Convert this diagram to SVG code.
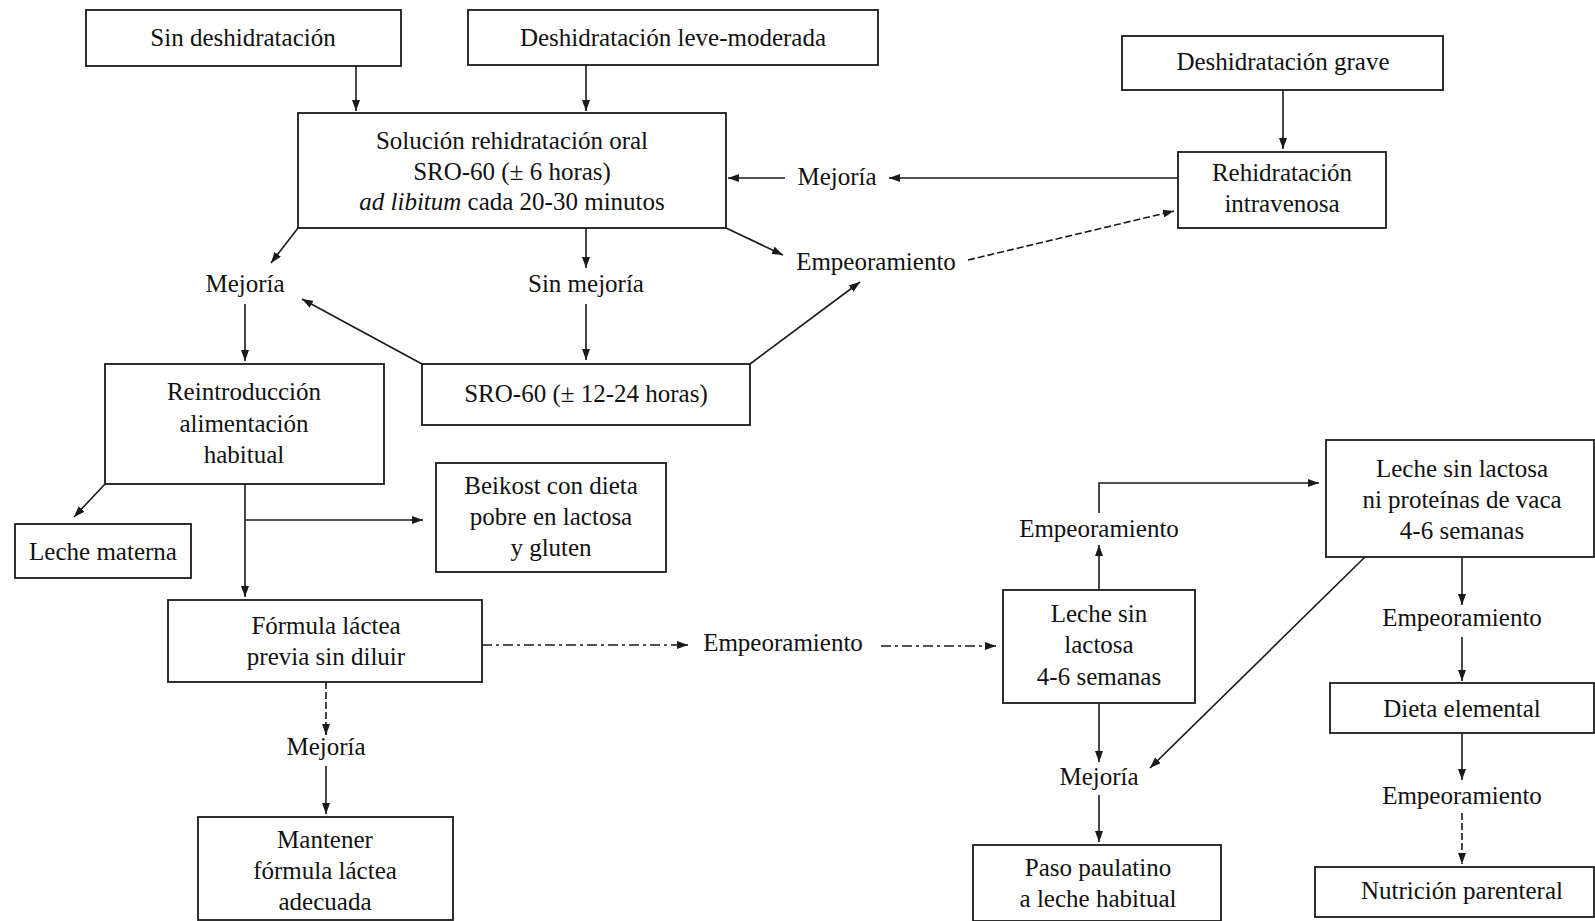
<svg xmlns="http://www.w3.org/2000/svg" width="1595" height="921" viewBox="0 0 1595 921">
<style>
.box{fill:#fff;stroke:#1a1a1a;stroke-width:1.8}
.t{font-family:"Liberation Serif","Times New Roman",serif;font-size:25px;fill:#111;text-anchor:middle}
.c{fill:none;stroke:#1a1a1a;stroke-width:1.6}
.dash{stroke-dasharray:10 4 3 4}
.dsh{stroke-dasharray:7 3}
</style>
<defs>
<marker id="ah" markerUnits="userSpaceOnUse" markerWidth="11" markerHeight="8" refX="11" refY="4" orient="auto">
<path d="M0,0 L11,4 L0,8 z" fill="#1a1a1a"/>
</marker>
</defs>
<rect width="1595" height="921" fill="#fff"/>

<g id="connectors">
<path class="c" d="M356,66 V111" marker-end="url(#ah)"/>
<path class="c" d="M586,65 V111" marker-end="url(#ah)"/>
<path class="c" d="M1283,90 V149" marker-end="url(#ah)"/>
<path class="c" d="M1178,178 H889" marker-end="url(#ah)"/>
<path class="c" d="M785,178 H728" marker-end="url(#ah)"/>
<path class="c" d="M726,228 L783,255" marker-end="url(#ah)"/>
<path class="c dsh" d="M968,260 L1174,211" marker-end="url(#ah)"/>
<path class="c" d="M298,228 L271,263" marker-end="url(#ah)"/>
<path class="c" d="M586,228 V268" marker-end="url(#ah)"/>
<path class="c" d="M586,304 V360" marker-end="url(#ah)"/>
<path class="c" d="M422,364 L302,299" marker-end="url(#ah)"/>
<path class="c" d="M750,364 L860,282" marker-end="url(#ah)"/>
<path class="c" d="M245,304 V361" marker-end="url(#ah)"/>
<path class="c" d="M105,484 L74,517" marker-end="url(#ah)"/>
<path class="c" d="M245,484 V597" marker-end="url(#ah)"/>
<path class="c" d="M246,520 H423" marker-end="url(#ah)"/>
<path class="c dash" d="M482,645 H688" marker-end="url(#ah)"/>
<path class="c dash" d="M881,646 H996" marker-end="url(#ah)"/>
<path class="c dsh" d="M326,682 V735" marker-end="url(#ah)"/>
<path class="c" d="M326,766 V814" marker-end="url(#ah)"/>
<path class="c" d="M1099,590 V545" marker-end="url(#ah)"/>
<path class="c" d="M1099,513 V483 H1319" marker-end="url(#ah)"/>
<path class="c" d="M1462,557 V605" marker-end="url(#ah)"/>
<path class="c" d="M1462,637 V681" marker-end="url(#ah)"/>
<path class="c" d="M1462,733 V780" marker-end="url(#ah)"/>
<path class="c dsh" d="M1462,813 V864" marker-end="url(#ah)"/>
<path class="c" d="M1365,557 L1150,768" marker-end="url(#ah)"/>
<path class="c" d="M1099,703 V762" marker-end="url(#ah)"/>
<path class="c" d="M1099,795 V842" marker-end="url(#ah)"/>
</g>

<g id="sin-deshidratacion"><rect class="box" x="86" y="10" width="315" height="56"/><text class="t" x="243" y="46">Sin deshidratación</text></g>
<g id="leve-moderada"><rect class="box" x="468" y="10" width="410" height="55"/><text class="t" x="673" y="46">Deshidratación leve-moderada</text></g>
<g id="grave"><rect class="box" x="1122" y="36" width="321" height="54"/><text class="t" x="1283" y="70">Deshidratación grave</text></g>
<g id="sro"><rect class="box" x="298" y="113" width="428" height="115"/>
<text class="t" x="512" y="149">Solución rehidratación oral</text>
<text class="t" x="512" y="180">SRO-60 (± 6 horas)</text>
<text class="t" x="512" y="210"><tspan font-style="italic">ad libitum</tspan> cada 20-30 minutos</text></g>
<g id="iv"><rect class="box" x="1178" y="152" width="208" height="76"/>
<text class="t" x="1282" y="181">Rehidratación</text>
<text class="t" x="1282" y="212">intravenosa</text></g>
<g id="mejoria-1"><text class="t" x="837" y="185">Mejoría</text></g>
<g id="empeoramiento-1"><text class="t" x="876" y="270">Empeoramiento</text></g>
<g id="mejoria-2"><text class="t" x="245" y="292">Mejoría</text></g>
<g id="sin-mejoria"><text class="t" x="586" y="292">Sin mejoría</text></g>
<g id="reintroduccion"><rect class="box" x="105" y="364" width="279" height="120"/>
<text class="t" x="244" y="400">Reintroducción</text>
<text class="t" x="244" y="432">alimentación</text>
<text class="t" x="244" y="463">habitual</text></g>
<g id="sro-12-24"><rect class="box" x="422" y="364" width="328" height="61"/><text class="t" x="586" y="402">SRO-60 (± 12-24 horas)</text></g>
<g id="leche-materna"><rect class="box" x="15" y="524" width="176" height="54"/><text class="t" x="103" y="560">Leche materna</text></g>
<g id="beikost"><rect class="box" x="436" y="463" width="230" height="109"/>
<text class="t" x="551" y="494">Beikost con dieta</text>
<text class="t" x="551" y="525">pobre en lactosa</text>
<text class="t" x="551" y="556">y gluten</text></g>
<g id="formula"><rect class="box" x="168" y="600" width="314" height="82"/>
<text class="t" x="326" y="634">Fórmula láctea</text>
<text class="t" x="326" y="665">previa sin diluir</text></g>
<g id="empeoramiento-2"><text class="t" x="783" y="651">Empeoramiento</text></g>
<g id="mejoria-3"><text class="t" x="326" y="755">Mejoría</text></g>
<g id="mantener"><rect class="box" x="198" y="817" width="255" height="103"/>
<text class="t" x="325" y="848">Mantener</text>
<text class="t" x="325" y="879">fórmula láctea</text>
<text class="t" x="325" y="910">adecuada</text></g>
<g id="leche-sin-lactosa"><rect class="box" x="1003" y="590" width="192" height="113"/>
<text class="t" x="1099" y="622">Leche sin</text>
<text class="t" x="1099" y="653">lactosa</text>
<text class="t" x="1099" y="685">4-6 semanas</text></g>
<g id="empeoramiento-3"><text class="t" x="1099" y="537">Empeoramiento</text></g>
<g id="mejoria-4"><text class="t" x="1099" y="785">Mejoría</text></g>
<g id="paso"><rect class="box" x="973" y="845" width="248" height="76"/>
<text class="t" x="1098" y="876">Paso paulatino</text>
<text class="t" x="1098" y="907">a leche habitual</text></g>
<g id="leche-sin-proteinas"><rect class="box" x="1326" y="440" width="268" height="117"/>
<text class="t" x="1462" y="477">Leche sin lactosa</text>
<text class="t" x="1462" y="508">ni proteínas de vaca</text>
<text class="t" x="1462" y="539">4-6 semanas</text></g>
<g id="empeoramiento-4"><text class="t" x="1462" y="626">Empeoramiento</text></g>
<g id="dieta"><rect class="box" x="1330" y="683" width="264" height="50"/><text class="t" x="1462" y="717">Dieta elemental</text></g>
<g id="empeoramiento-5"><text class="t" x="1462" y="804">Empeoramiento</text></g>
<g id="nutricion"><rect class="box" x="1315" y="867" width="279" height="50"/><text class="t" x="1462" y="899">Nutrición parenteral</text></g>
</svg>
